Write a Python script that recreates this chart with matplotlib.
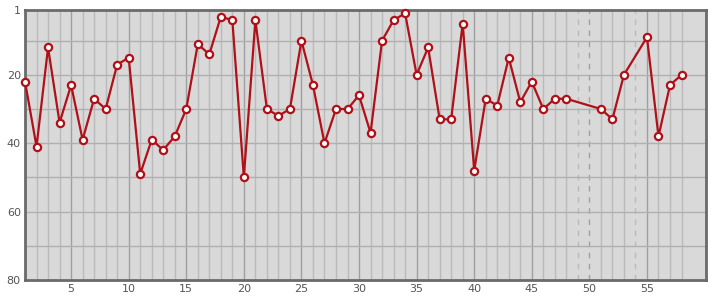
import matplotlib
matplotlib.use("Agg")
import matplotlib.pyplot as plt

# Data
x_values = [1, 2, 3, 4, 5, 6, 7, 8, 9, 10,
            11, 12, 13, 14, 15, 16, 17, 18, 19, 20,
            21, 22, 23, 24, 25, 26, 27, 28, 29, 30,
            31, 32, 33, 34, 35, 36, 37, 38, 39, 40,
            41, 42, 43, 44, 45, 46, 47, 48, 51, 52,
            53, 55, 56, 57, 58]
ranks = [22, 41, 12, 34, 23, 39, 27, 30, 17, 15,
         49, 39, 42, 38, 30, 11, 14, 3, 4, 50,
         4, 30, 32, 30, 10, 23, 40, 30, 30, 26,
         37, 10, 4, 2, 20, 12, 33, 33, 5, 48,
         27, 29, 15, 28, 22, 30, 27, 27, 30, 33,
         20, 9, 38, 23, 20]
missing_x = [49, 50, 54]
x_ticks = [5, 10, 15, 20, 25, 30, 35, 40, 45, 50, 55]
y_ticks = [1, 20, 40, 60, 80]

fig = plt.figure(figsize=(7.15, 3.0), dpi=100)
ax = fig.add_axes([0.035, 0.067, 0.952, 0.9])
ax.set_facecolor("#d9d9d9")

# vertical grid lines at each category
for xv in range(1, 59):
    major = (xv % 5 == 0)
    color = "#a0a0a0" if major else "#bababa"
    ls = (0, (4, 4)) if xv in missing_x else "-"
    ax.axvline(xv, color=color, lw=1.0, ls=ls, zorder=1)
# horizontal grid lines
for yv in range(10, 80, 10):
    ax.axhline(yv, color="#b0b0b0", lw=1.0, zorder=1)

ax.plot(x_values, ranks, color="#b01018", lw=1.6, marker="o", ms=5.2,
        mfc="white", mec="#b01018", mew=1.6, zorder=3, clip_on=False)

ax.set_xlim(1, 60.1)
ax.set_ylim(80, 1)
ax.set_xticks(x_ticks)
ax.set_yticks(y_ticks)
ax.tick_params(length=0, labelsize=8, colors="#555555", pad=4)
ax.tick_params(axis="x", pad=3)
ax.tick_params(axis="y", pad=3)
for sp in ax.spines.values():
    sp.set_color("#6a6a6a")
    sp.set_linewidth(2)

fig.savefig("out.png", dpi=100)
